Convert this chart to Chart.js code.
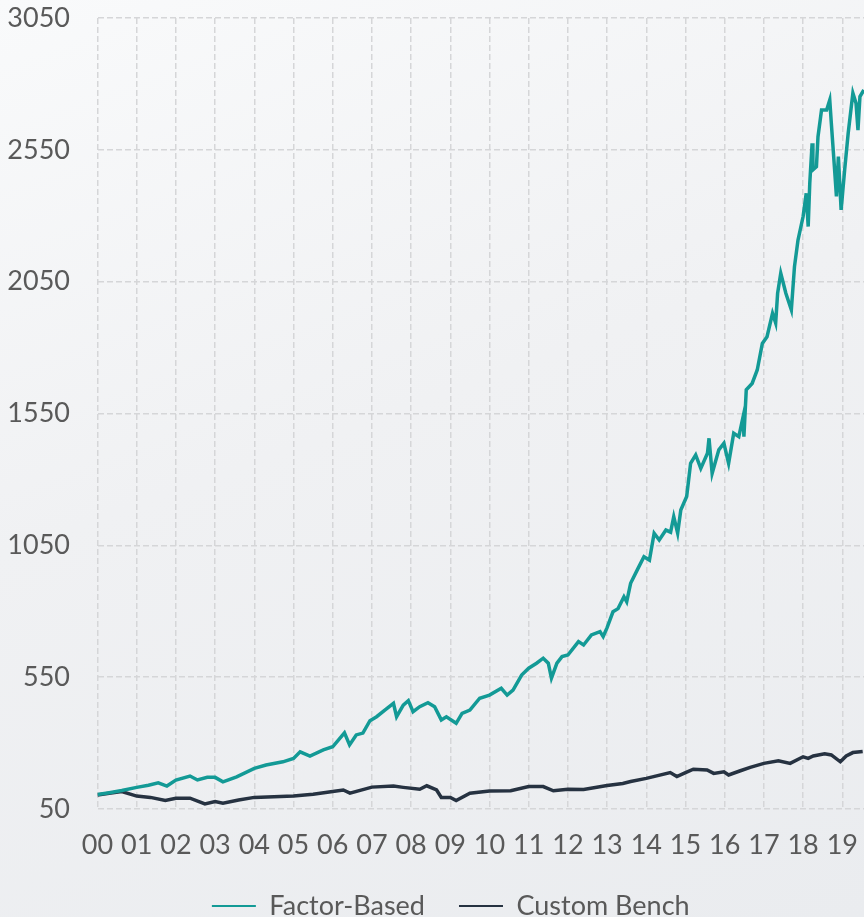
<!DOCTYPE html>
<html>
<head>
<meta charset="utf-8">
<script src="https://cdn.jsdelivr.net/npm/chart.js@4.4.1/dist/chart.umd.min.js"></script>
<style>
  html, body {
    margin: 0;
    padding: 0;
    width: 864px;
    height: 917px;
    overflow: hidden;
    background: linear-gradient(160deg, #f9fafb 0%, #f0f1f3 45%, #eaecef 100%);
  }
  #wrap {
    position: relative;
    width: 900px;
    height: 930px;
  }
</style>
</head>
<body>
<div id="wrap"><canvas id="perfChart"></canvas></div>
<script>
// Jahr-Labels auf der x-Achse (2000..2019)
const yearLabels = ["00","01","02","03","04","05","06","07","08","09",
                    "10","11","12","13","14","15","16","17","18","19"];

// y-Achse
const yMin = 50;
const yMax = 3050;
const yStep = 500;

// Factor-Based (Jahre seit 2000, Indexwert)
const factorYears = [0, 0.3, 0.62, 1.0, 1.3, 1.55, 1.77, 2.0, 2.36, 2.55, 2.8, 3.0, 3.2, 3.55,
  4.0, 4.3, 4.73, 5.0, 5.17, 5.42, 5.76, 6.0, 6.3, 6.43, 6.6, 6.77, 6.95, 7.12, 7.33, 7.55,
  7.63, 7.8, 7.93, 8.05, 8.22, 8.43, 8.6, 8.77, 8.9, 9.15, 9.3, 9.5, 9.75, 10.0, 10.3, 10.45,
  10.6, 10.82, 11.0, 11.2, 11.37, 11.5, 11.58, 11.72, 11.85, 12.0, 12.27, 12.4, 12.6, 12.82,
  12.9, 13.0, 13.15, 13.28, 13.43, 13.5, 13.6, 13.77, 13.94, 14.08, 14.2, 14.33, 14.5, 14.62,
  14.7, 14.8, 14.88, 15.03, 15.13, 15.26, 15.39, 15.56, 15.6, 15.68, 15.85, 15.98, 16.1, 16.23,
  16.36, 16.47, 16.49, 16.55, 16.7, 16.83, 16.96, 17.08, 17.22, 17.3, 17.35, 17.43, 17.56,
  17.7, 17.78, 17.87, 18.0, 18.08, 18.13, 18.17, 18.23, 18.25, 18.34, 18.38, 18.47, 18.6,
  18.68, 18.72, 18.81, 18.85, 18.9, 18.97, 19.06, 19.15, 19.27, 19.35, 19.4, 19.45, 19.55];
const factorValues = [105, 112, 120, 132, 140, 149, 137, 160, 175, 160, 170, 170, 153, 172,
  204, 217, 229, 242, 267, 251, 274, 286, 339, 293, 331, 338, 385, 400, 425, 451,
  400, 444, 461, 419, 438, 453, 438, 388, 400, 375, 413, 425, 470, 482, 508, 482,
  501, 558, 584, 603, 622, 603, 546, 603, 628, 634, 685, 672, 710, 723,
  704, 738, 798, 810, 855, 836, 906, 957, 1007, 994, 1096, 1070, 1108, 1100,
  1159, 1096, 1184, 1235, 1361, 1393, 1342, 1399, 1456, 1323, 1412, 1437, 1361, 1475,
  1462, 1538, 1462, 1640, 1664, 1715, 1816, 1841, 1930, 1893, 2006, 2082, 2006,
  1943, 2107, 2208, 2297, 2385, 2259, 2423, 2575, 2474, 2486, 2600, 2701, 2701,
  2739, 2651, 2461, 2373, 2524, 2322, 2474, 2613, 2765, 2727, 2625, 2752, 2777];

// Custom Bench
const benchYears = [0, 0.3, 0.62, 1.0, 1.35, 1.73, 2.0, 2.36, 2.74, 3.0, 3.2, 3.6, 4.0, 4.5,
  5.0, 5.5, 6.0, 6.27, 6.44, 7.0, 7.55, 7.8, 8.22, 8.4, 8.65, 8.77, 9.0, 9.15, 9.5, 10.0,
  10.54, 11.0, 11.37, 11.63, 12.0, 12.4, 13.0, 13.4, 13.6, 14.0, 14.61, 14.78, 15.0, 15.2,
  15.55, 15.72, 15.98, 16.1, 16.4, 16.65, 17.0, 17.37, 17.67, 18.0, 18.13, 18.26, 18.55,
  18.72, 18.95, 19.1, 19.27, 19.52];
const benchValues = [103, 110, 116, 99, 94, 82, 91, 91, 69, 78, 72, 84, 94, 96,
  99, 106, 116, 122, 110, 133, 137, 132, 125, 138, 122, 94, 94, 82, 110, 118,
  119, 135, 135, 119, 125, 124, 139, 147, 154, 166, 188, 173, 188, 201,
  198, 185, 191, 179, 195, 208, 223, 233, 223, 248, 242, 251, 259,
  255, 229, 251, 264, 268];

const textColor = "#595959";
const gridColor = "#d5d6d8";
const fontFamily = "Lato";
const fontSize = 27;

function toPoints(xs, ys) {
  return xs.map((x, i) => ({ x: x, y: ys[i] }));
}

// y-Labels nicht an der linken Kante abschneiden
const widenYLabelArea = {
  id: "widenYLabelArea",
  afterLayout: (chart) => {
    chart.scales.y.left = 0;
  },
};

window.onload = () => {
  const ctx = document.getElementById("perfChart").getContext("2d");
  const defaultLabels = Chart.defaults.plugins.legend.labels.generateLabels;

  new Chart(ctx, {
    type: "line",
    data: {
      datasets: [
        {
          label: "Factor-Based",
          data: toPoints(factorYears, factorValues),
          borderColor: "#139a96",
          backgroundColor: "#139a96",
          borderWidth: 3.5,
          pointRadius: 0,
          tension: 0,
        },
        {
          label: "Custom Bench",
          data: toPoints(benchYears, benchValues),
          borderColor: "#263241",
          backgroundColor: "#263241",
          borderWidth: 3.5,
          pointRadius: 0,
          tension: 0,
        },
      ],
    },
    options: {
      responsive: true,
      maintainAspectRatio: false,
      animation: false,
      layout: { padding: { left: 20, right: 18.5, top: 18, bottom: 0.5 } },
      plugins: {
        tooltip: { enabled: false },
        legend: {
          position: "bottom",
          labels: {
            color: textColor,
            font: { family: fontFamily, size: fontSize },
            boxWidth: 44,
            boxHeight: 2,
            padding: 34,
            generateLabels: (chart) =>
              defaultLabels(chart).map((l) => ({ ...l, lineWidth: 0 })),
          },
        },
      },
      scales: {
        x: {
          type: "linear",
          min: 0,
          max: 20,
          border: { display: false, dash: [6, 3] },
          afterFit: (scale) => { scale.height = 49.5; },
          grid: {
            color: gridColor,
            lineWidth: 1.5,
            drawTicks: true,
            tickLength: 17.3,
            tickColor: "rgba(0,0,0,0)",
          },
          ticks: {
            stepSize: 1,
            padding: 3,
            color: textColor,
            font: { family: fontFamily, size: fontSize },
            maxRotation: 0,
            autoSkip: false,
            callback: (v) => yearLabels[v] !== undefined ? yearLabels[v] : "",
          },
        },
        y: {
          min: yMin,
          max: yMax,
          border: { display: false, dash: [6, 3] },
          afterFit: (scale) => { scale.width = 77.5; },
          grid: {
            color: gridColor,
            lineWidth: 1.5,
            drawTicks: true,
            tickLength: 26.5,
            tickColor: "rgba(0,0,0,0)",
          },
          ticks: {
            stepSize: yStep,
            padding: 1,
            color: textColor,
            font: { family: fontFamily, size: fontSize },
            callback: (v) => String(v),
          },
        },
      },
    },
    plugins: [widenYLabelArea],
  });
};
</script>
</body>
</html>
